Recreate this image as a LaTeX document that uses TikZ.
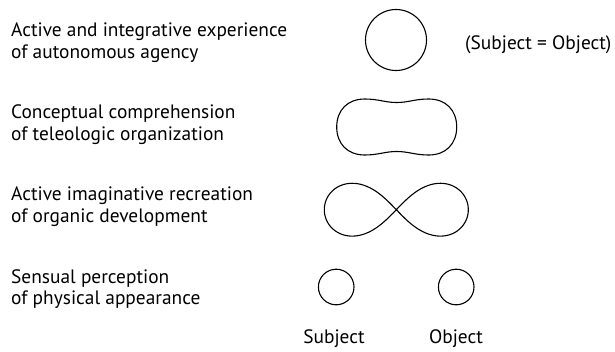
\documentclass[tikz,border=0pt]{standalone}
\usepackage{fontspec}
\setmainfont{PT Sans}
\newlength\refw
\begin{document}
\settowidth\refw{\fontsize{10pt}{12pt}\selectfont Active and integrative experience}%
\pgfmathsetmacro\fs{10*276/\refw}%
\begin{tikzpicture}[x=1pt,y=-1pt]
\tikzset{
  lbl/.style={font=\fontsize{\fs pt}{21pt}\selectfont, anchor=base west, inner sep=0pt, text=black},
  shapeline/.style={draw=black, line width=1.1pt, line join=round},
  ring/.style={circle, shapeline, inner sep=0pt}
}
\useasboundingbox (0,0) rectangle (615,351);
% left texts
\node[lbl] (r1a) at (11,36.5) {Active and integrative experience};
\node[lbl] (r1b) at (11,58) {of autonomous agency};
\node[lbl] (r2a) at (11,118.5) {Conceptual comprehension};
\node[lbl] (r2b) at (11,140) {of teleologic organization};
\node[lbl] (r3a) at (11,200.5) {Active imaginative recreation};
\node[lbl] (r3b) at (11,222) {of organic development};
\node[lbl] (r4a) at (11,283) {Sensual perception};
\node[lbl] (r4b) at (11,304) {of physical appearance};
\node[lbl] (eq) at (465,49) {(Subject = Object)};
\node[lbl, anchor=base] (subj) at (334,343.5) {Subject};
\node[lbl, anchor=base] (obj) at (456,343.5) {Object};
% shapes
\node[ring, minimum size=61pt] (whole) at (396,40) {};
\node[ring, minimum size=35.6pt] (sc) at (336.2,287) {};
\node[ring, minimum size=35.6pt] (oc) at (456.2,287) {};
% peanut
\coordinate (pc) at (396.7,127);
\draw[shapeline] ([shift={(0,-24.5)}]pc)
  .. controls ([shift={(12,-24.5)}]pc) and ([shift={(18,-28)}]pc) .. ([shift={(32,-28)}]pc)
  .. controls ([shift={(49,-28)}]pc) and ([shift={(60,-17)}]pc) .. ([shift={(60,0)}]pc)
  .. controls ([shift={(60,17)}]pc) and ([shift={(49,28)}]pc) .. ([shift={(32,28)}]pc)
  .. controls ([shift={(18,28)}]pc) and ([shift={(12,24.5)}]pc) .. ([shift={(0,24.5)}]pc)
  .. controls ([shift={(-12,24.5)}]pc) and ([shift={(-18,28)}]pc) .. ([shift={(-32,28)}]pc)
  .. controls ([shift={(-49,28)}]pc) and ([shift={(-60,17)}]pc) .. ([shift={(-60,0)}]pc)
  .. controls ([shift={(-60,-17)}]pc) and ([shift={(-49,-28)}]pc) .. ([shift={(-32,-28)}]pc)
  .. controls ([shift={(-18,-28)}]pc) and ([shift={(-12,-24.5)}]pc) .. cycle;
% lemniscate
\draw[shapeline] plot[domain=0:360, samples=361, variable=\t]
  ({396.3+72*cos(\t)/(1+sin(\t)*sin(\t))}, {209.7+74.7*sin(\t)*cos(\t)/(1+sin(\t)*sin(\t))});
\end{tikzpicture}
\end{document}
